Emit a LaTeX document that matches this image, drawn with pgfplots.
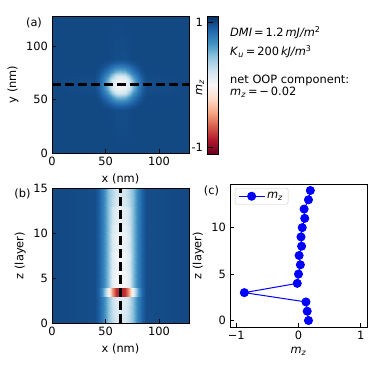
\documentclass[border=0pt]{standalone}
\usepackage{fontspec}
\setmainfont{DejaVu Sans}
\usepackage{pgfplots}
\pgfplotsset{compat=1.18}
\pgfplotsset{colormap={RdBu}{rgb255=(103,0,31) rgb255=(178,24,43) rgb255=(214,96,77) rgb255=(244,165,130) rgb255=(253,219,199) rgb255=(247,247,247) rgb255=(209,229,240) rgb255=(146,197,222) rgb255=(67,147,195) rgb255=(33,102,172) rgb255=(5,48,97)}}
\pgfplotsset{
  myax/.style={scale only axis, anchor=south west, tick align=inside,
    xtick pos=bottom, ytick pos=left, major tick length=4pt,
    axis line style={line width=0.8pt},
    every tick/.style={black, line width=0.8pt},
    /pgf/number format/assume math mode=true,
    tick label style={font=\fontsize{11.4}{13}\selectfont},
    label style={font=\fontsize{11.4}{13}\selectfont}},
  heat/.style={colormap name=RdBu, point meta min=-1.1, point meta max=1.1, axis on top}
}
\begin{document}
\fontsize{11.4}{13.7}\selectfont
\begin{tikzpicture}
\useasboundingbox (0,0) rectangle (381pt,367pt);

% (a)
\begin{axis}[myax, heat, at={(52pt,214pt)}, width=137pt, height=137pt,
  xmin=0, xmax=128, ymin=0, ymax=128, xtick={0,50,100}, ytick={0,50,100},
  xlabel={x (nm)}, ylabel={y (nm)}]
\addplot[surf, shader=interp, mesh/cols=15, point meta=\thisrow{c}] table[row sep=\\] {
x y c\\
0 0 1\\40 0 1\\44 0 1\\48 0 1\\52 0 1\\56 0 1\\60 0 1\\64 0 1\\68 0 1\\72 0 1\\76 0 1\\80 0 1\\84 0 1\\88 0 1\\128 0 1\\
0 40 1\\40 40 1\\44 40 1\\48 40 1\\52 40 1\\56 40 0.99\\60 40 0.98\\64 40 0.98\\68 40 0.98\\72 40 0.99\\76 40 1\\80 40 1\\84 40 1\\88 40 1\\128 40 1\\
0 44 1\\40 44 1\\44 44 1\\48 44 0.99\\52 44 0.97\\56 44 0.94\\60 44 0.91\\64 44 0.90\\68 44 0.91\\72 44 0.94\\76 44 0.97\\80 44 0.99\\84 44 1\\88 44 1\\128 44 1\\
0 48 1\\40 48 1\\44 48 0.99\\48 48 0.96\\52 48 0.90\\56 48 0.83\\60 48 0.77\\64 48 0.75\\68 48 0.77\\72 48 0.83\\76 48 0.90\\80 48 0.96\\84 48 0.99\\88 48 1\\128 48 1\\
0 52 1\\40 52 1\\44 52 0.97\\48 52 0.90\\52 52 0.79\\56 52 0.65\\60 52 0.52\\64 52 0.48\\68 52 0.52\\72 52 0.65\\76 52 0.79\\80 52 0.90\\84 52 0.97\\88 52 1\\128 52 1\\
0 56 1\\40 56 0.99\\44 56 0.94\\48 56 0.83\\52 56 0.65\\56 56 0.42\\60 56 0.22\\64 56 0.17\\68 56 0.22\\72 56 0.42\\76 56 0.65\\80 56 0.83\\84 56 0.94\\88 56 0.99\\128 56 1\\
0 60 1\\40 60 0.98\\44 60 0.91\\48 60 0.77\\52 60 0.52\\56 60 0.22\\60 60 0.09\\64 60 0.06\\68 60 0.09\\72 60 0.22\\76 60 0.52\\80 60 0.77\\84 60 0.91\\88 60 0.98\\128 60 1\\
0 64 1\\40 64 0.98\\44 64 0.90\\48 64 0.75\\52 64 0.48\\56 64 0.17\\60 64 0.06\\64 64 0.03\\68 64 0.06\\72 64 0.17\\76 64 0.48\\80 64 0.75\\84 64 0.90\\88 64 0.98\\128 64 1\\
0 68 1\\40 68 0.98\\44 68 0.91\\48 68 0.77\\52 68 0.52\\56 68 0.22\\60 68 0.09\\64 68 0.06\\68 68 0.09\\72 68 0.22\\76 68 0.52\\80 68 0.77\\84 68 0.91\\88 68 0.98\\128 68 1\\
0 72 1\\40 72 0.99\\44 72 0.94\\48 72 0.83\\52 72 0.65\\56 72 0.42\\60 72 0.22\\64 72 0.17\\68 72 0.22\\72 72 0.42\\76 72 0.65\\80 72 0.83\\84 72 0.94\\88 72 0.99\\128 72 1\\
0 76 1\\40 76 1\\44 76 0.97\\48 76 0.90\\52 76 0.79\\56 76 0.65\\60 76 0.52\\64 76 0.48\\68 76 0.52\\72 76 0.65\\76 76 0.79\\80 76 0.90\\84 76 0.97\\88 76 1\\128 76 1\\
0 80 1\\40 80 1\\44 80 0.99\\48 80 0.96\\52 80 0.90\\56 80 0.83\\60 80 0.77\\64 80 0.75\\68 80 0.77\\72 80 0.83\\76 80 0.90\\80 80 0.96\\84 80 0.99\\88 80 1\\128 80 1\\
0 84 1\\40 84 1\\44 84 1\\48 84 0.99\\52 84 0.97\\56 84 0.94\\60 84 0.91\\64 84 0.90\\68 84 0.91\\72 84 0.94\\76 84 0.97\\80 84 0.99\\84 84 1\\88 84 1\\128 84 1\\
0 88 1\\40 88 1\\44 88 1\\48 88 1\\52 88 1\\56 88 0.99\\60 88 0.98\\64 88 0.98\\68 88 0.98\\72 88 0.99\\76 88 1\\80 88 1\\84 88 1\\88 88 1\\128 88 1\\
0 128 1\\40 128 1\\44 128 1\\48 128 1\\52 128 1\\56 128 1\\60 128 1\\64 128 1\\68 128 1\\72 128 1\\76 128 1\\80 128 1\\84 128 1\\88 128 1\\128 128 1\\
};
\addplot[black, line width=2.5pt, dash pattern=on 9pt off 4pt] coordinates {(0,64) (128,64)};
\end{axis}

% colorbar
\begin{axis}[myax, heat, at={(207pt,213pt)}, width=11pt, height=138pt,
  xmin=0, xmax=1, ymin=-1.1, ymax=1.1, xtick=\empty, ytick={-1,1}, yticklabels={-1,1},
  major tick length=6pt,
  every axis y label/.style={at={(axis description cs:0,0.5)}, rotate=90, anchor=center, xshift=-3pt, yshift=7pt},
  ylabel={\textit{m}\textsubscript{\textit{z}}}]
\addplot[surf, shader=interp, mesh/cols=2, point meta=\thisrow{c}] table[row sep=\\] {
x y c\\
0 -1.1 -1.1\\1 -1.1 -1.1\\
0 -0.88 -0.88\\1 -0.88 -0.88\\
0 -0.66 -0.66\\1 -0.66 -0.66\\
0 -0.44 -0.44\\1 -0.44 -0.44\\
0 -0.22 -0.22\\1 -0.22 -0.22\\
0 0 0\\1 0 0\\
0 0.22 0.22\\1 0.22 0.22\\
0 0.44 0.44\\1 0.44 0.44\\
0 0.66 0.66\\1 0.66 0.66\\
0 0.88 0.88\\1 0.88 0.88\\
0 1.1 1.1\\1 1.1 1.1\\
};
\end{axis}

% (b)
\begin{axis}[myax, heat, at={(52pt,44pt)}, width=137pt, height=135pt,
  xmin=0, xmax=128, ymin=0, ymax=15, xtick={0,50,100}, ytick={0,5,10,15},
  xlabel={x (nm)}, ylabel={z (layer)}]
\addplot[surf, shader=interp, mesh/cols=15, point meta=\thisrow{c}] table[row sep=\\] {
x y c\\
0 0 1\\40 0 0.98\\44 0 0.9\\48 0 0.75\\52 0 0.48\\56 0 0.30\\60 0 0.19\\64 0 0.16\\68 0 0.19\\72 0 0.30\\76 0 0.48\\80 0 0.75\\84 0 0.9\\88 0 0.98\\128 0 1\\
0 1 1\\40 1 0.98\\44 1 0.9\\48 1 0.75\\52 1 0.48\\56 1 0.30\\60 1 0.19\\64 1 0.16\\68 1 0.19\\72 1 0.30\\76 1 0.48\\80 1 0.75\\84 1 0.9\\88 1 0.98\\128 1 1\\
0 1 1\\40 1 0.98\\44 1 0.9\\48 1 0.75\\52 1 0.48\\56 1 0.28\\60 1 0.17\\64 1 0.14\\68 1 0.17\\72 1 0.28\\76 1 0.48\\80 1 0.75\\84 1 0.9\\88 1 0.98\\128 1 1\\
0 2 1\\40 2 0.98\\44 2 0.9\\48 2 0.75\\52 2 0.48\\56 2 0.28\\60 2 0.17\\64 2 0.14\\68 2 0.17\\72 2 0.28\\76 2 0.48\\80 2 0.75\\84 2 0.9\\88 2 0.98\\128 2 1\\
0 2 1\\40 2 0.98\\44 2 0.9\\48 2 0.75\\52 2 0.48\\56 2 0.26\\60 2 0.15\\64 2 0.12\\68 2 0.15\\72 2 0.26\\76 2 0.48\\80 2 0.75\\84 2 0.9\\88 2 0.98\\128 2 1\\
0 3 1\\40 3 0.98\\44 3 0.9\\48 3 0.75\\52 3 0.48\\56 3 0.26\\60 3 0.15\\64 3 0.12\\68 3 0.15\\72 3 0.26\\76 3 0.48\\80 3 0.75\\84 3 0.9\\88 3 0.98\\128 3 1\\
0 3 1\\40 3 0.98\\44 3 0.88\\48 3 0.6\\52 3 0.1\\56 3 -0.45\\60 3 -0.8\\64 3 -0.87\\68 3 -0.8\\72 3 -0.45\\76 3 0.1\\80 3 0.6\\84 3 0.88\\88 3 0.98\\128 3 1\\
0 4 1\\40 4 0.98\\44 4 0.88\\48 4 0.6\\52 4 0.1\\56 4 -0.45\\60 4 -0.8\\64 4 -0.87\\68 4 -0.8\\72 4 -0.45\\76 4 0.1\\80 4 0.6\\84 4 0.88\\88 4 0.98\\128 4 1\\
0 4 1\\40 4 0.98\\44 4 0.9\\48 4 0.75\\52 4 0.48\\56 4 0.12\\60 4 0.01\\64 4 -0.02\\68 4 0.01\\72 4 0.12\\76 4 0.48\\80 4 0.75\\84 4 0.9\\88 4 0.98\\128 4 1\\
0 5 1\\40 5 0.98\\44 5 0.9\\48 5 0.75\\52 5 0.48\\56 5 0.12\\60 5 0.01\\64 5 -0.02\\68 5 0.01\\72 5 0.12\\76 5 0.48\\80 5 0.75\\84 5 0.9\\88 5 0.98\\128 5 1\\
0 5 1\\40 5 0.98\\44 5 0.9\\48 5 0.75\\52 5 0.48\\56 5 0.14\\60 5 0.03\\64 5 0\\68 5 0.03\\72 5 0.14\\76 5 0.48\\80 5 0.75\\84 5 0.9\\88 5 0.98\\128 5 1\\
0 6 1\\40 6 0.98\\44 6 0.9\\48 6 0.75\\52 6 0.48\\56 6 0.14\\60 6 0.03\\64 6 0\\68 6 0.03\\72 6 0.14\\76 6 0.48\\80 6 0.75\\84 6 0.9\\88 6 0.98\\128 6 1\\
0 6 1\\40 6 0.98\\44 6 0.9\\48 6 0.75\\52 6 0.48\\56 6 0.17\\60 6 0.06\\64 6 0.03\\68 6 0.06\\72 6 0.17\\76 6 0.48\\80 6 0.75\\84 6 0.9\\88 6 0.98\\128 6 1\\
0 7 1\\40 7 0.98\\44 7 0.9\\48 7 0.75\\52 7 0.48\\56 7 0.17\\60 7 0.06\\64 7 0.03\\68 7 0.06\\72 7 0.17\\76 7 0.48\\80 7 0.75\\84 7 0.9\\88 7 0.98\\128 7 1\\
0 7 1\\40 7 0.98\\44 7 0.9\\48 7 0.75\\52 7 0.48\\56 7 0.15\\60 7 0.04\\64 7 0.01\\68 7 0.04\\72 7 0.15\\76 7 0.48\\80 7 0.75\\84 7 0.9\\88 7 0.98\\128 7 1\\
0 8 1\\40 8 0.98\\44 8 0.9\\48 8 0.75\\52 8 0.48\\56 8 0.15\\60 8 0.04\\64 8 0.01\\68 8 0.04\\72 8 0.15\\76 8 0.48\\80 8 0.75\\84 8 0.9\\88 8 0.98\\128 8 1\\
0 8 1\\40 8 0.98\\44 8 0.9\\48 8 0.75\\52 8 0.48\\56 8 0.19\\60 8 0.08\\64 8 0.05\\68 8 0.08\\72 8 0.19\\76 8 0.48\\80 8 0.75\\84 8 0.9\\88 8 0.98\\128 8 1\\
0 9 1\\40 9 0.98\\44 9 0.9\\48 9 0.75\\52 9 0.48\\56 9 0.19\\60 9 0.08\\64 9 0.05\\68 9 0.08\\72 9 0.19\\76 9 0.48\\80 9 0.75\\84 9 0.9\\88 9 0.98\\128 9 1\\
0 9 1\\40 9 0.98\\44 9 0.9\\48 9 0.75\\52 9 0.48\\56 9 0.18\\60 9 0.07\\64 9 0.04\\68 9 0.07\\72 9 0.18\\76 9 0.48\\80 9 0.75\\84 9 0.9\\88 9 0.98\\128 9 1\\
0 10 1\\40 10 0.98\\44 10 0.9\\48 10 0.75\\52 10 0.48\\56 10 0.18\\60 10 0.07\\64 10 0.04\\68 10 0.07\\72 10 0.18\\76 10 0.48\\80 10 0.75\\84 10 0.9\\88 10 0.98\\128 10 1\\
0 10 1\\40 10 0.98\\44 10 0.9\\48 10 0.75\\52 10 0.48\\56 10 0.20\\60 10 0.09\\64 10 0.06\\68 10 0.09\\72 10 0.20\\76 10 0.48\\80 10 0.75\\84 10 0.9\\88 10 0.98\\128 10 1\\
0 11 1\\40 11 0.98\\44 11 0.9\\48 11 0.75\\52 11 0.48\\56 11 0.20\\60 11 0.09\\64 11 0.06\\68 11 0.09\\72 11 0.20\\76 11 0.48\\80 11 0.75\\84 11 0.9\\88 11 0.98\\128 11 1\\
0 11 1\\40 11 0.98\\44 11 0.9\\48 11 0.75\\52 11 0.48\\56 11 0.24\\60 11 0.13\\64 11 0.10\\68 11 0.13\\72 11 0.24\\76 11 0.48\\80 11 0.75\\84 11 0.9\\88 11 0.98\\128 11 1\\
0 12 1\\40 12 0.98\\44 12 0.9\\48 12 0.75\\52 12 0.48\\56 12 0.24\\60 12 0.13\\64 12 0.10\\68 12 0.13\\72 12 0.24\\76 12 0.48\\80 12 0.75\\84 12 0.9\\88 12 0.98\\128 12 1\\
0 12 1\\40 12 0.98\\44 12 0.9\\48 12 0.75\\52 12 0.48\\56 12 0.23\\60 12 0.12\\64 12 0.09\\68 12 0.12\\72 12 0.23\\76 12 0.48\\80 12 0.75\\84 12 0.9\\88 12 0.98\\128 12 1\\
0 13 1\\40 13 0.98\\44 13 0.9\\48 13 0.75\\52 13 0.48\\56 13 0.23\\60 13 0.12\\64 13 0.09\\68 13 0.12\\72 13 0.23\\76 13 0.48\\80 13 0.75\\84 13 0.9\\88 13 0.98\\128 13 1\\
0 13 1\\40 13 0.98\\44 13 0.9\\48 13 0.75\\52 13 0.48\\56 13 0.30\\60 13 0.19\\64 13 0.16\\68 13 0.19\\72 13 0.30\\76 13 0.48\\80 13 0.75\\84 13 0.9\\88 13 0.98\\128 13 1\\
0 14 1\\40 14 0.98\\44 14 0.9\\48 14 0.75\\52 14 0.48\\56 14 0.30\\60 14 0.19\\64 14 0.16\\68 14 0.19\\72 14 0.30\\76 14 0.48\\80 14 0.75\\84 14 0.9\\88 14 0.98\\128 14 1\\
0 14 1\\40 14 0.98\\44 14 0.9\\48 14 0.75\\52 14 0.48\\56 14 0.33\\60 14 0.22\\64 14 0.19\\68 14 0.22\\72 14 0.33\\76 14 0.48\\80 14 0.75\\84 14 0.9\\88 14 0.98\\128 14 1\\
0 15 1\\40 15 0.98\\44 15 0.9\\48 15 0.75\\52 15 0.48\\56 15 0.33\\60 15 0.22\\64 15 0.19\\68 15 0.22\\72 15 0.33\\76 15 0.48\\80 15 0.75\\84 15 0.9\\88 15 0.98\\128 15 1\\
};
\addplot[black, line width=2.5pt, dash pattern=on 9pt off 4pt] coordinates {(64,0) (64,15)};
\end{axis}

% (c)
\begin{axis}[myax, at={(230pt,40pt)}, width=137pt, height=143pt,
  xmin=-1.1, xmax=1.1, ymin=-0.7, ymax=14.7, xtick={-1,0,1}, xticklabels={−1,0,1},
  ytick={0,5,10},
  xlabel={\textit{m}\textsubscript{\textit{z}}}, ylabel={z (layer)},
  legend style={at={(0.036,0.972)}, anchor=north west, draw=black!20, rounded corners=2pt,
    font=\fontsize{11.4}{13}\selectfont},
  legend image code/.code={\draw[mark repeat=2, mark phase=2, #1] plot coordinates {(0pt,0pt) (13pt,0pt) (26pt,0pt)};}]
\addplot[blue, line width=1pt, mark=*, mark size=4pt, mark options={fill=blue, draw=blue}] coordinates {
(0.16,0) (0.14,1) (0.12,2) (-0.87,3) (-0.02,4) (0.0,5) (0.03,6) (0.01,7)
(0.05,8) (0.04,9) (0.06,10) (0.10,11) (0.09,12) (0.16,13) (0.19,14)};
\addlegendentry{\textit{m}\textsubscript{\textit{z}}}
\end{axis}

% annotations
\node[anchor=west, inner sep=0pt] at (230pt,334pt) {\textit{DMI}\,=\,1.2\,\textit{mJ/m}\textsuperscript{2}};
\node[anchor=west, inner sep=0pt] at (230pt,315pt) {\textit{K}\textsubscript{\textit{u}}\,=\,200\,\textit{kJ/m}\textsuperscript{3}};
\node[anchor=west, inner sep=0pt] at (230pt,287pt) {net OOP component:};
\node[anchor=west, inner sep=0pt] at (230pt,275pt) {\textit{m}\textsubscript{\textit{z}}\,=\,−\,0.02};
\node at (34pt,344pt) {(a)};
\node at (22.5pt,173pt) {(b)};
\node at (211.5pt,176pt) {(c)};
\end{tikzpicture}
\end{document}
